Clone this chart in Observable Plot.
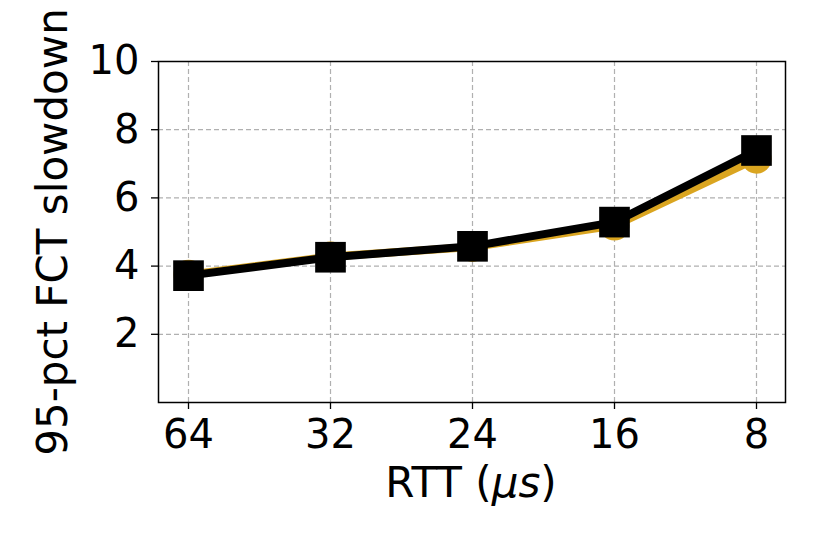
<!DOCTYPE html>
<html>
<head>
<meta charset="utf-8">
<script src="https://cdn.jsdelivr.net/npm/d3@7"></script>
<script src="https://cdn.jsdelivr.net/npm/@observablehq/plot@0.6"></script>
<style>
  html, body { margin: 0; padding: 0; background: #fff; }
</style>
</head>
<body>
<div id="chart"></div>
<script>
const rtt = ["64", "32", "24", "16", "8"];
const goldValues = [3.75, 4.28, 4.56, 5.19, 7.15];
const blackValues = [3.72, 4.26, 4.58, 5.29, 7.39];
const yTicks = [2, 4, 6, 8, 10];

const gold = rtt.map((r, i) => ({rtt: r, v: goldValues[i]}));
const black = rtt.map((r, i) => ({rtt: r, v: blackValues[i]}));

const plot = Plot.plot({
  width: 830,
  height: 554,
  marginLeft: 158,
  marginRight: 45,
  marginTop: 61,
  marginBottom: 152,
  style: {fontFamily: "DejaVu Sans", fontSize: "40px", color: "#000", background: "#fff"},
  x: {type: "point", domain: rtt, padding: 0.2, label: null},
  y: {domain: [0, 10], ticks: yTicks, label: null},
  marks: [
    Plot.ruleX(rtt, {x: d => d, stroke: "#b0b0b0", strokeWidth: 1.2, strokeDasharray: "5,3"}),
    Plot.ruleY(yTicks, {y: d => d, stroke: "#b0b0b0", strokeWidth: 1.2, strokeDasharray: "5,3"}),
    Plot.axisX({ticks: rtt, tickSize: 7, tickPadding: 10, stroke: "#000", strokeWidth: 1.3, label: null, fontSize: 40}),
    Plot.axisY({ticks: yTicks, tickSize: 7, tickPadding: 12, stroke: "#000", strokeWidth: 1.3, label: null, fontSize: 40}),
    Plot.line(gold, {x: "rtt", y: "v", stroke: "#DAA520", strokeWidth: 8}),
    Plot.dot(gold, {x: "rtt", y: "v", r: 15, fill: "#DAA520", stroke: null}),
    Plot.line(black, {x: "rtt", y: "v", stroke: "#000", strokeWidth: 8}),
    Plot.dot(black, {x: "rtt", y: "v", symbol: "square", r: 17.3, fill: "#000", stroke: null}),
    Plot.frame({stroke: "#000", strokeWidth: 1.5})
  ]
});

const svg = d3.select(plot);
const xl = svg.append("text")
  .attr("x", 471).attr("y", 497)
  .attr("text-anchor", "middle")
  .attr("font-family", "DejaVu Sans").attr("font-size", 42).attr("fill", "#000");
xl.append("tspan").text("RTT (");
xl.append("tspan").attr("font-style", "italic").text("μs");
xl.append("tspan").text(")");

svg.append("text")
  .attr("transform", "translate(52,232) rotate(-90)")
  .attr("text-anchor", "middle")
  .attr("dominant-baseline", "central")
  .attr("font-family", "DejaVu Sans").attr("font-size", 42).attr("fill", "#000")
  .text("95-pct FCT slowdown");

document.getElementById("chart").appendChild(plot);
</script>
</body>
</html>
